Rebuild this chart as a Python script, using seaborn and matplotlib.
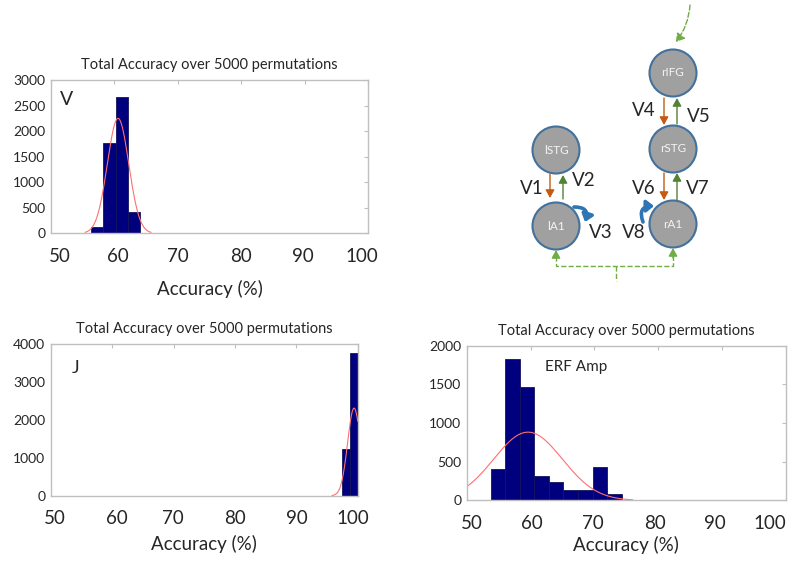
import numpy as np
import matplotlib
matplotlib.use("Agg")
import matplotlib.pyplot as plt
import seaborn as sns
from matplotlib.patches import Circle, FancyArrowPatch

sns.set_style("white")
plt.rcParams['font.family'] = ['Lato', 'DejaVu Sans']

# histogram data (bin edges + counts)
v_edges = [56.3, 58.25, 60.2, 62.15, 64.1]
v_counts = [117, 1758, 2668, 410]
j_edges = [97.45, 98.72, 99.99]
j_counts = [1232, 3773]
erf_edges = [53.75, 56.03, 58.31, 60.59, 62.87, 65.15, 67.43, 69.71, 71.99, 74.27]
erf_counts = [402, 1823, 1466, 316, 242, 135, 135, 428, 80]

# fitted normal curves: mean, sd, peak height, x range drawn
v_fit = dict(mu=60.6, sd=1.68, peak=2250, lo=55.4, hi=65.8)
j_fit = dict(mu=99.4, sd=1.05, peak=2310, lo=95.8, hi=100.0)
erf_fit = dict(mu=59.6, sd=5.37, peak=883, lo=45.0, hi=76.0)

x_ticks = [50, 60, 70, 80, 90, 100]
x_ticklabels = ["50", "60", "70", "80", "90", "100"]
# the big tick labels were pasted on a bit off the real tick marks
v_label_pos = [51.5, 60.6, 70.0, 80.0, 89.7, 99.0]
j_label_pos = [50.7, 60.8, 69.9, 80.0, 90.1, 99.2]
erf_label_pos = [50.8, 60.2, 69.8, 79.5, 88.9, 97.5]
title = "Total Accuracy over 5000 permutations"

NAVY = "#00007f"
FIT_RED = "#ff6f6f"
FRAME = "#bfbfbf"


def panel(rect, edges, counts, fit, label_pos, ymax, ystep, tag, tag_xy, tag_size, labelpad):
    ax = fig.add_axes(rect)
    centers = [(a + b) / 2 for a, b in zip(edges[:-1], edges[1:])]
    sns.histplot(x=centers, weights=counts, bins=edges, ax=ax, color=NAVY,
                 alpha=1, edgecolor="#14145a", linewidth=0.6)
    xs = np.linspace(fit["lo"], fit["hi"], 300)
    ys = fit["peak"] * np.exp(-0.5 * ((xs - fit["mu"]) / fit["sd"]) ** 2)
    sns.lineplot(x=xs, y=ys, ax=ax, color=FIT_RED, linewidth=0.8)
    ax.set_xlim(50, 100)
    ax.set_ylim(0, ymax)
    ax.xaxis.remove_overlapping_locs = False
    ax.set_xticks(x_ticks)
    ax.set_xticklabels([])
    ax.set_xticks(label_pos, minor=True)
    ax.set_xticklabels(x_ticklabels, minor=True)
    ax.set_yticks(np.arange(0, ymax + 1, ystep))
    ax.tick_params(axis="x", which="major", direction="in", top=True, length=3,
                   color=FRAME)
    ax.tick_params(axis="x", which="minor", length=0, labelsize=13.5, pad=10.5)
    ax.tick_params(axis="y", direction="in", right=True, length=3, color=FRAME,
                   labelsize=10, pad=4)
    for s in ax.spines.values():
        s.set_color(FRAME)
        s.set_linewidth(1)
    ax.set_title(title, fontsize=10.5, pad=8)
    ax.set_ylabel("")
    ax.set_xlabel("Accuracy (%)", fontsize=13.5, labelpad=labelpad)
    ax.text(tag_xy[0], tag_xy[1], tag, transform=ax.transAxes, fontsize=tag_size,
            ha="center", va="center")
    return ax


fig = plt.figure(figsize=(8, 5.64), dpi=100)

panel([0.0634, 0.5863, 0.397, 0.2718], v_edges, v_counts, v_fit, v_label_pos,
      3000, 500, "V", (0.05, 0.87), 14, 10.5)
panel([0.0634, 0.1211, 0.3838, 0.269], j_edges, j_counts, j_fit, j_label_pos,
      4000, 1000, "J", (0.082, 0.84), 13, 5.4)
panel([0.5834, 0.1126, 0.3991, 0.2745], erf_edges, erf_counts, erf_fit, erf_label_pos,
      2000, 500, "ERF Amp", (0.342, 0.862), 11, 3)

# network diagram, drawn in pixel coordinates over the whole figure
nodes = {"rIFG": (673, 73), "rSTG": (673, 149), "lSTG": (556, 150),
         "lA1": (556, 226), "rA1": (673, 224)}
vlabels = {"V1": (532, 188), "V2": (584, 180), "V3": (601, 233), "V4": (644, 110),
           "V5": (699, 116), "V6": (644, 189), "V7": (698, 189), "V8": (634, 233)}

dax = fig.add_axes([0, 0, 1, 1])
dax.set_xlim(0, 800)
dax.set_ylim(564, 0)
dax.axis("off")
dax.patch.set_alpha(0)

ORANGE = "#c55a11"
GREEN = "#70ad47"
DGREEN = "#548235"
BLUE = "#2e75b6"

for name, (cx, cy) in nodes.items():
    dax.add_patch(Circle((cx, cy), 23.5, facecolor="#a0a0a0", edgecolor="#41719c", lw=1.5))
    dax.text(cx, cy, name, ha="center", va="center", color="#f4f4f4", fontsize=8.5)

for name, (tx, ty) in vlabels.items():
    dax.text(tx, ty, name, ha="center", va="center", fontsize=13.5)


def arrow(p0, p1, color, **kw):
    dax.add_patch(FancyArrowPatch(p0, p1, arrowstyle="-|>,head_length=4,head_width=2.2",
                                  color=color, lw=1, shrinkA=0, shrinkB=0,
                                  mutation_scale=1.2, **kw))


# downward (orange) and upward (green) connections
for (x, top, bot) in [(550, 174, 198), (664, 98, 125), (664, 173, 200)]:
    arrow((x, top), (x, bot), ORANGE)
for (x, top, bot) in [(563, 175, 199), (677, 98, 124), (677, 173, 200)]:
    arrow((x, bot), (x, top), DGREEN)

# self connections
dax.add_patch(FancyArrowPatch((574, 207), (585, 222), connectionstyle="arc3,rad=-0.7",
                              arrowstyle="-|>,head_length=3.5,head_width=2.8", color=BLUE,
                              lw=2.6, shrinkA=0, shrinkB=0, mutation_scale=1.2))
dax.add_patch(FancyArrowPatch((643, 222), (654, 206), connectionstyle="arc3,rad=-0.7",
                              arrowstyle="-|>,head_length=3.5,head_width=2.8", color=BLUE,
                              lw=2.6, shrinkA=0, shrinkB=0, mutation_scale=1.2))

# dashed external inputs
dax.plot([556, 556, 673, 673], [256, 266, 266, 256], ls="--", color=GREEN, lw=1)
dax.plot([616, 616], [266, 281], ls="--", color=GREEN, lw=1)
arrow((556, 258), (556, 250), GREEN)
arrow((673, 258), (673, 248), GREEN)
dax.add_patch(FancyArrowPatch((690, 5), (676, 42), connectionstyle="arc3,rad=-0.15",
                              arrowstyle="-|>,head_length=4,head_width=2.5", color=GREEN,
                              lw=1, ls="--", shrinkA=0, shrinkB=0, mutation_scale=1.2))

fig.savefig("out.png", dpi=100)
